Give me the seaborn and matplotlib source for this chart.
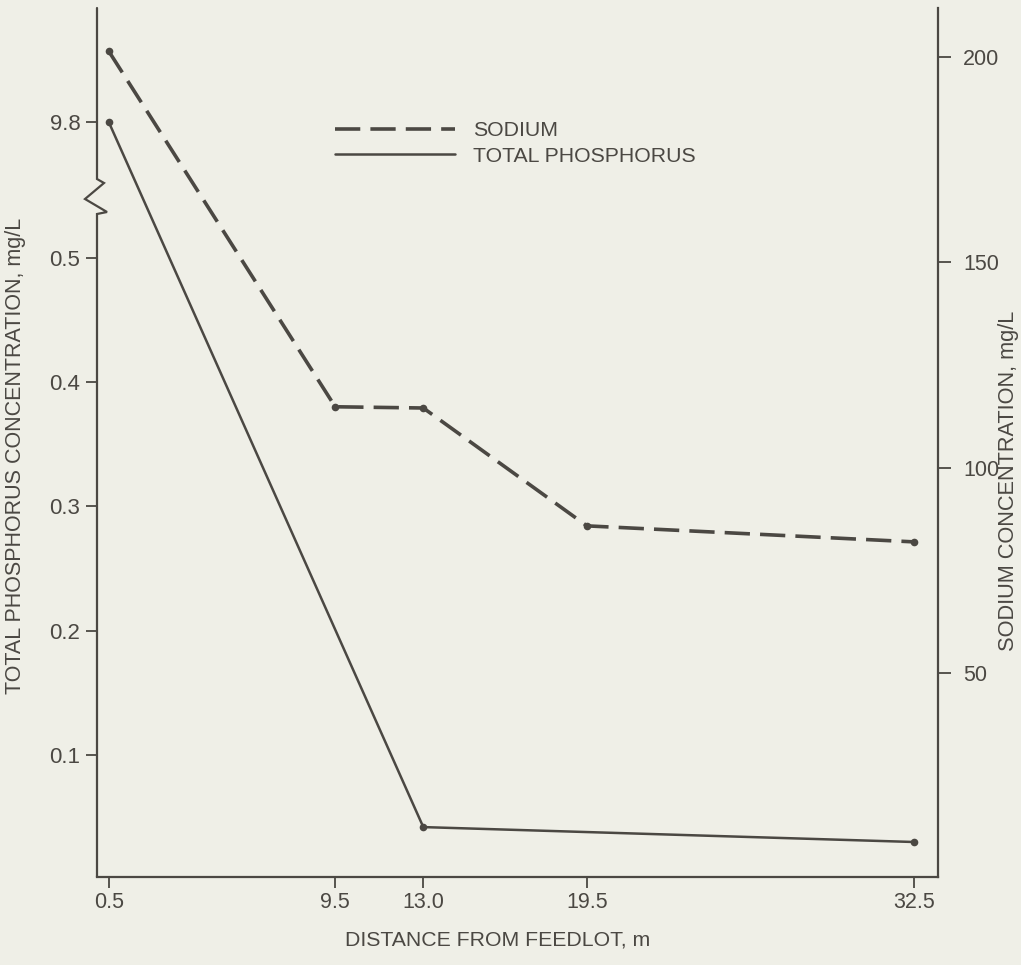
import numpy as np
import matplotlib
matplotlib.use("Agg")
import matplotlib.pyplot as plt
import seaborn as sns
from matplotlib.lines import Line2D
from matplotlib.ticker import NullLocator

# ---- data ----
distance_ticks = [0.5, 9.5, 13.0, 19.5, 32.5]
x_tick_labels = ["0.5", "9.5", "13.0", "19.5", "32.5"]
phos_distance = [0.5, 13.0, 32.5]
phos_values = [9.8, 0.042, 0.030]
sodium_distance = [0.5, 9.5, 13.0, 19.5, 32.5]
sodium_values = [201.4, 114.8, 114.5, 85.8, 81.9]
phos_ticks = [0.1, 0.2, 0.3, 0.4, 0.5, 9.8]
phos_tick_labels = ["0.1", "0.2", "0.3", "0.4", "0.5", "9.8"]
sodium_ticks = [50, 100, 150, 200]
sodium_tick_labels = ["50", "100", "150", "200"]

BG = "#efefe7"
INK = "#4b4843"

sns.set_theme(style="ticks", rc={"axes.facecolor": BG, "figure.facecolor": BG,
                                 "savefig.facecolor": BG})
plt.rcParams["font.family"] = ["Liberation Sans", "DejaVu Sans"]

# broken axis: linear below 0.5, compressed above
K = 0.01175


def fwd(v):
    v = np.asarray(v, dtype=float)
    return np.where(v <= 0.5, v, 0.5 + (v - 0.5) * K)


def inv(u):
    u = np.asarray(u, dtype=float)
    return np.where(u <= 0.5, u, 0.5 + (u - 0.5) / K)


fig = plt.figure(figsize=(10.21, 9.65), dpi=100)
ax = fig.add_axes([97 / 1021, 88 / 965, 841 / 1021, 869 / 965])
ax.set_yscale("function", functions=(fwd, inv))

sns.lineplot(x=phos_distance, y=phos_values, ax=ax, color=INK, linewidth=1.8,
             marker="o", markersize=5.5, markeredgewidth=0, legend=False,
             errorbar=None, sort=False)

ax2 = ax.twinx()
ax2.patch.set_visible(False)
sns.lineplot(x=sodium_distance, y=sodium_values, ax=ax2, color=INK, linewidth=2.6,
             linestyle=(0, (7, 2.8)), marker="o", markersize=5.5, markeredgewidth=0,
             legend=False, errorbar=None, sort=False)

ax.set_xlim(0.035, 33.45)
ax.set_ylim(0.00185, 17.6)
ax2.set_ylim(0.3, 211.9)

# ticks
ax.set_xticks(distance_ticks, x_tick_labels)
ax.set_yticks(phos_ticks, phos_tick_labels)
ax.yaxis.set_minor_locator(NullLocator())
ax2.set_yticks(sodium_ticks, sodium_tick_labels)
ax.tick_params(axis="x", length=8, width=1.3, direction="out", pad=3,
               labelsize=15.5, colors=INK)
ax.tick_params(axis="y", length=8, width=1.3, direction="out", pad=4,
               labelsize=16, colors=INK)
ax2.tick_params(axis="y", length=9, width=1.3, direction="out", pad=9,
                labelsize=15.5, colors=INK)

# spines
for s in ["top", "right", "left"]:
    ax.spines[s].set_visible(False)
for s in ["top", "left", "bottom"]:
    ax2.spines[s].set_visible(False)
ax.spines["bottom"].set_color(INK)
ax.spines["bottom"].set_linewidth(1.6)
ax2.spines["right"].set_color(INK)
ax2.spines["right"].set_linewidth(1.6)

# left spine with zigzag break (pixel positions -> axes fraction)
def px2ax(px, py):
    return (px - 97) / 841, (877 - py) / 869

pts = [(97, 8), (97, 179), (104, 183), (85, 199), (107, 212), (97, 214), (97, 877)]
xs, ys = zip(*[px2ax(*p) for p in pts])
ax.add_line(Line2D(xs, ys, transform=ax.transAxes, color=INK, linewidth=1.6,
                   clip_on=False, solid_joinstyle="miter"))

# labels
ax.set_xlabel("DISTANCE FROM FEEDLOT, m", fontsize=15.3, color=INK)
ax.xaxis.set_label_coords(0.4768, -0.062)
ax.set_ylabel("TOTAL PHOSPHORUS CONCENTRATION, mg/L", fontsize=15.5, color=INK)
ax.yaxis.set_label_coords(-0.085, 0.4845)
ax2.set_ylabel("SODIUM CONCENTRATION, mg/L", fontsize=15.7, color=INK)
ax2.yaxis.set_label_coords(1.0715, 0.456)

# legend
h_sod = Line2D([], [], color=INK, linewidth=2.6, linestyle=(0, (7, 2.8)))
h_pho = Line2D([], [], color=INK, linewidth=1.8)
ax2.legend([h_sod, h_pho], ["SODIUM", "TOTAL PHOSPHORUS"], loc="upper left",
           bbox_to_anchor=(0.283, 0.870), frameon=False, fontsize=15.3,
           handlelength=5.65, handletextpad=0.85, labelspacing=0.32,
           borderpad=0, borderaxespad=0, labelcolor=INK)

fig.savefig("out.png", dpi=100, facecolor=BG)
